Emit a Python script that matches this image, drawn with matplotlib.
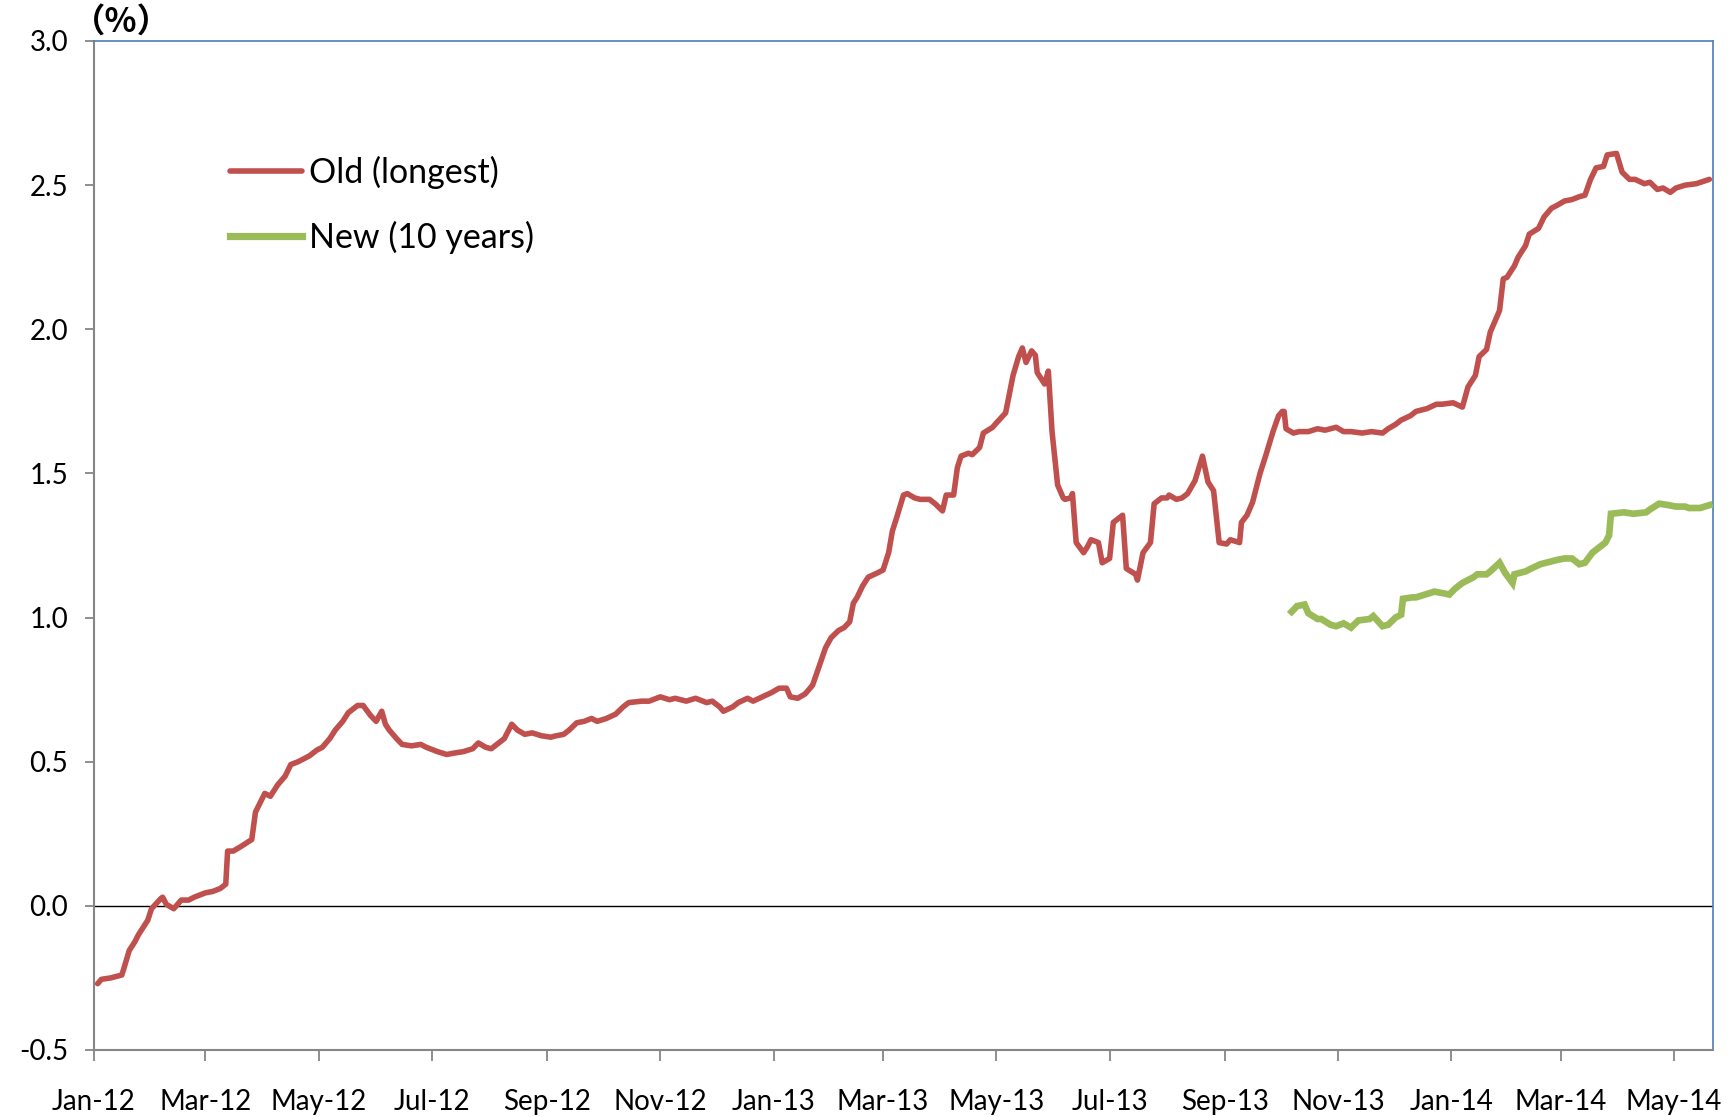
import matplotlib
matplotlib.use("Agg")
import matplotlib.pyplot as plt
import matplotlib.dates as mdates
import pandas as pd

# ---------------- data ----------------
old_dates = [
    "2012-01-03", "2012-01-05", "2012-01-10", "2012-01-16", "2012-01-17", "2012-01-20", "2012-01-23",
    "2012-01-25", "2012-01-30", "2012-02-01", "2012-02-06", "2012-02-07", "2012-02-09", "2012-02-13",
    "2012-02-15", "2012-02-17", "2012-02-21", "2012-02-24", "2012-03-01", "2012-03-05", "2012-03-09",
    "2012-03-12", "2012-03-13", "2012-03-16", "2012-03-20", "2012-03-26", "2012-03-28", "2012-04-02",
    "2012-04-05", "2012-04-09", "2012-04-13", "2012-04-16", "2012-04-20", "2012-04-26", "2012-04-30",
    "2012-05-03", "2012-05-07", "2012-05-10", "2012-05-14", "2012-05-17", "2012-05-22", "2012-05-25",
    "2012-05-29", "2012-06-01", "2012-06-04", "2012-06-06", "2012-06-08", "2012-06-12", "2012-06-15",
    "2012-06-20", "2012-06-25", "2012-06-28", "2012-07-04", "2012-07-09", "2012-07-13", "2012-07-18",
    "2012-07-23", "2012-07-26", "2012-07-30", "2012-08-02", "2012-08-06", "2012-08-09", "2012-08-13",
    "2012-08-16", "2012-08-20", "2012-08-24", "2012-08-29", "2012-09-03", "2012-09-06", "2012-09-10",
    "2012-09-13", "2012-09-17", "2012-09-21", "2012-09-25", "2012-09-28", "2012-10-03", "2012-10-08",
    "2012-10-12", "2012-10-15", "2012-10-22", "2012-10-26", "2012-11-01", "2012-11-06", "2012-11-09",
    "2012-11-15", "2012-11-20", "2012-11-26", "2012-11-29", "2012-12-03", "2012-12-05", "2012-12-10",
    "2012-12-13", "2012-12-18", "2012-12-21", "2012-12-26", "2012-12-31", "2013-01-04", "2013-01-08",
    "2013-01-10", "2013-01-14", "2013-01-18", "2013-01-22", "2013-01-25", "2013-01-29", "2013-02-01",
    "2013-02-05", "2013-02-08", "2013-02-11", "2013-02-13", "2013-02-15", "2013-02-18", "2013-02-21",
    "2013-02-26", "2013-03-01", "2013-03-04", "2013-03-06", "2013-03-08", "2013-03-12", "2013-03-14",
    "2013-03-18", "2013-03-21", "2013-03-26", "2013-03-29", "2013-04-02", "2013-04-04", "2013-04-08",
    "2013-04-10", "2013-04-12", "2013-04-16", "2013-04-18", "2013-04-22", "2013-04-24", "2013-04-29",
    "2013-05-01", "2013-05-06", "2013-05-08", "2013-05-10", "2013-05-13", "2013-05-15", "2013-05-17",
    "2013-05-20", "2013-05-22", "2013-05-23", "2013-05-27", "2013-05-29", "2013-05-31", "2013-06-03",
    "2013-06-06", "2013-06-07", "2013-06-10", "2013-06-11", "2013-06-13", "2013-06-17", "2013-06-19",
    "2013-06-21", "2013-06-25", "2013-06-27", "2013-07-01", "2013-07-03", "2013-07-08", "2013-07-10",
    "2013-07-15", "2013-07-16", "2013-07-19", "2013-07-23", "2013-07-25", "2013-07-29", "2013-08-01",
    "2013-08-02", "2013-08-06", "2013-08-09", "2013-08-12", "2013-08-16", "2013-08-20", "2013-08-23",
    "2013-08-26", "2013-08-29", "2013-09-02", "2013-09-04", "2013-09-09", "2013-09-10", "2013-09-13",
    "2013-09-16", "2013-09-20", "2013-09-23", "2013-09-27", "2013-09-30", "2013-10-02", "2013-10-03",
    "2013-10-04", "2013-10-08", "2013-10-11", "2013-10-16", "2013-10-21", "2013-10-25", "2013-10-31",
    "2013-11-04", "2013-11-08", "2013-11-14", "2013-11-19", "2013-11-25", "2013-11-28", "2013-12-02",
    "2013-12-05", "2013-12-10", "2013-12-13", "2013-12-19", "2013-12-24", "2013-12-27", "2014-01-02",
    "2014-01-07", "2014-01-10", "2014-01-14", "2014-01-16", "2014-01-20", "2014-01-22", "2014-01-27",
    "2014-01-29", "2014-01-31", "2014-02-04", "2014-02-06", "2014-02-10", "2014-02-12", "2014-02-17",
    "2014-02-20", "2014-02-24", "2014-02-27", "2014-03-03", "2014-03-07", "2014-03-11", "2014-03-14",
    "2014-03-17", "2014-03-20", "2014-03-24", "2014-03-26", "2014-03-31", "2014-04-03", "2014-04-07",
    "2014-04-10", "2014-04-15", "2014-04-18", "2014-04-22", "2014-04-25", "2014-04-29", "2014-05-02",
    "2014-05-07", "2014-05-13", "2014-05-20",
]
old_values = [
    -0.27, -0.255, -0.25, -0.24, -0.22, -0.155, -0.125,
    -0.10, -0.05, -0.01, 0.025, 0.03, 0.005, -0.01,
    0.005, 0.02, 0.02, 0.03, 0.045, 0.05, 0.06,
    0.075, 0.19, 0.19, 0.205, 0.23, 0.325, 0.39,
    0.38, 0.42, 0.45, 0.49, 0.50, 0.52, 0.54,
    0.55, 0.58, 0.61, 0.64, 0.67, 0.695, 0.695,
    0.66, 0.64, 0.675, 0.63, 0.61, 0.58, 0.56,
    0.555, 0.56, 0.55, 0.535, 0.525, 0.53, 0.535,
    0.545, 0.565, 0.55, 0.545, 0.565, 0.58, 0.63,
    0.61, 0.595, 0.60, 0.59, 0.585, 0.59, 0.595,
    0.61, 0.635, 0.64, 0.65, 0.64, 0.65, 0.665,
    0.69, 0.705, 0.71, 0.71, 0.725, 0.715, 0.72,
    0.71, 0.72, 0.705, 0.71, 0.69, 0.675, 0.69,
    0.705, 0.72, 0.71, 0.725, 0.74, 0.755, 0.755,
    0.725, 0.72, 0.735, 0.765, 0.82, 0.895, 0.93,
    0.955, 0.965, 0.985, 1.05, 1.07, 1.11, 1.14,
    1.155, 1.165, 1.225, 1.30, 1.34, 1.425, 1.43,
    1.415, 1.41, 1.41, 1.395, 1.37, 1.425, 1.425,
    1.52, 1.56, 1.57, 1.565, 1.59, 1.64, 1.66,
    1.675, 1.71, 1.775, 1.84, 1.905, 1.935, 1.885,
    1.925, 1.91, 1.85, 1.81, 1.855, 1.645, 1.46,
    1.415, 1.41, 1.415, 1.43, 1.26, 1.225, 1.245,
    1.27, 1.26, 1.19, 1.205, 1.33, 1.355, 1.17,
    1.15, 1.13, 1.225, 1.26, 1.395, 1.415, 1.415,
    1.425, 1.41, 1.415, 1.43, 1.475, 1.56, 1.47,
    1.44, 1.26, 1.255, 1.27, 1.26, 1.33, 1.355,
    1.40, 1.50, 1.56, 1.645, 1.70, 1.715, 1.715,
    1.655, 1.64, 1.645, 1.645, 1.655, 1.65, 1.66,
    1.645, 1.645, 1.64, 1.645, 1.64, 1.655, 1.67,
    1.685, 1.70, 1.715, 1.725, 1.74, 1.74, 1.745,
    1.73, 1.80, 1.84, 1.905, 1.93, 1.99, 2.065,
    2.175, 2.18, 2.22, 2.25, 2.29, 2.33, 2.35,
    2.39, 2.42, 2.43, 2.445, 2.45, 2.46, 2.465,
    2.52, 2.56, 2.565, 2.605, 2.61, 2.545, 2.52,
    2.52, 2.505, 2.51, 2.485, 2.49, 2.475, 2.49,
    2.50, 2.505, 2.52,
]

new_dates = [
    "2013-10-07", "2013-10-10", "2013-10-14", "2013-10-16", "2013-10-21", "2013-10-23", "2013-10-28",
    "2013-10-31", "2013-11-04", "2013-11-08", "2013-11-12", "2013-11-18", "2013-11-20", "2013-11-25",
    "2013-11-28", "2013-12-02", "2013-12-05", "2013-12-06", "2013-12-11", "2013-12-13", "2013-12-18",
    "2013-12-23", "2013-12-27", "2013-12-31", "2014-01-03", "2014-01-07", "2014-01-13", "2014-01-15",
    "2014-01-20", "2014-01-22", "2014-01-27", "2014-01-30", "2014-02-03", "2014-02-04", "2014-02-10",
    "2014-02-13", "2014-02-18", "2014-02-21", "2014-02-27", "2014-03-03", "2014-03-07", "2014-03-11",
    "2014-03-14", "2014-03-18", "2014-03-21", "2014-03-25", "2014-03-27", "2014-03-28", "2014-04-04",
    "2014-04-09", "2014-04-16", "2014-04-18", "2014-04-23", "2014-04-28", "2014-05-02", "2014-05-07",
    "2014-05-09", "2014-05-15", "2014-05-20",
]
new_values = [
    1.02, 1.04, 1.045, 1.015, 0.995, 0.995, 0.975,
    0.97, 0.98, 0.965, 0.99, 0.995, 1.005, 0.97,
    0.975, 1.00, 1.01, 1.065, 1.07, 1.07, 1.08,
    1.09, 1.085, 1.08, 1.10, 1.12, 1.14, 1.15,
    1.15, 1.16, 1.19, 1.155, 1.12, 1.15, 1.16,
    1.17, 1.185, 1.19, 1.20, 1.205, 1.205, 1.185,
    1.19, 1.225, 1.24, 1.26, 1.285, 1.36, 1.365,
    1.36, 1.365, 1.375, 1.395, 1.39, 1.385, 1.385,
    1.38, 1.38, 1.39,
]

series_labels = ["Old (longest)", "New (10 years)"]
y_ticks = [-0.5, 0.0, 0.5, 1.0, 1.5, 2.0, 2.5, 3.0]
x_start, x_end = "2012-01-01", "2014-05-22"
unit_label = "（%）"

# ---------------- plot ----------------
plt.rcParams["font.family"] = ["Lato", "DejaVu Sans"]

fig = plt.figure(figsize=(17.33, 11.17), dpi=100)
ax = fig.add_axes([0.0542, 0.0600, 0.9343, 0.9033])

RED = "#C0504D"
GREEN = "#9BBB59"

ax.axhline(0, color="black", lw=1.0, zorder=1)
ax.plot(pd.to_datetime(old_dates), old_values, color=RED, lw=4.0,
        solid_joinstyle="round", solid_capstyle="round", label=series_labels[0], zorder=3)
ax.plot(pd.to_datetime(new_dates), new_values, color=GREEN, lw=4.8,
        solid_joinstyle="miter", label=series_labels[1], zorder=3)

ax.set_xlim(pd.Timestamp(x_start), pd.Timestamp(x_end))
ax.set_ylim(y_ticks[0], y_ticks[-1])
ax.set_yticks(y_ticks)
ax.yaxis.set_major_formatter(matplotlib.ticker.FormatStrFormatter("%.1f"))

ax.xaxis.set_major_locator(mdates.MonthLocator(bymonth=[1, 3, 5, 7, 9, 11]))
ax.xaxis.set_major_formatter(mdates.DateFormatter("%b-%y"))

ax.spines["left"].set_color("#868686")
ax.spines["bottom"].set_color("#868686")
ax.spines["left"].set_linewidth(1.5)
ax.spines["bottom"].set_linewidth(1.5)
ax.spines["top"].set_color("#4A7EBB")
ax.spines["right"].set_color("#4A7EBB")
ax.spines["top"].set_linewidth(1.2)
ax.spines["right"].set_linewidth(1.2)

ax.tick_params(axis="y", direction="out", length=6.5, width=1.3, color="#868686",
               labelsize=20, pad=12)
ax.tick_params(axis="x", direction="out", length=8, width=1.3, color="#868686",
               labelsize=20, pad=20)

ax.text(-0.0135, 1.002, unit_label, transform=ax.transAxes, ha="left", va="bottom",
        fontsize=24, fontweight="bold", family=["Noto Sans CJK JP", "DejaVu Sans"])

leg = ax.legend(loc="upper left", bbox_to_anchor=(0.0840, 0.886), frameon=False,
                fontsize=24.5, handlelength=2.12, handletextpad=0.2, labelspacing=0.92,
                borderpad=0, borderaxespad=0)
leg.get_lines()[0].set_linewidth(4.0)
leg.get_lines()[1].set_linewidth(5.2)

fig.savefig("out.png", dpi=100)
